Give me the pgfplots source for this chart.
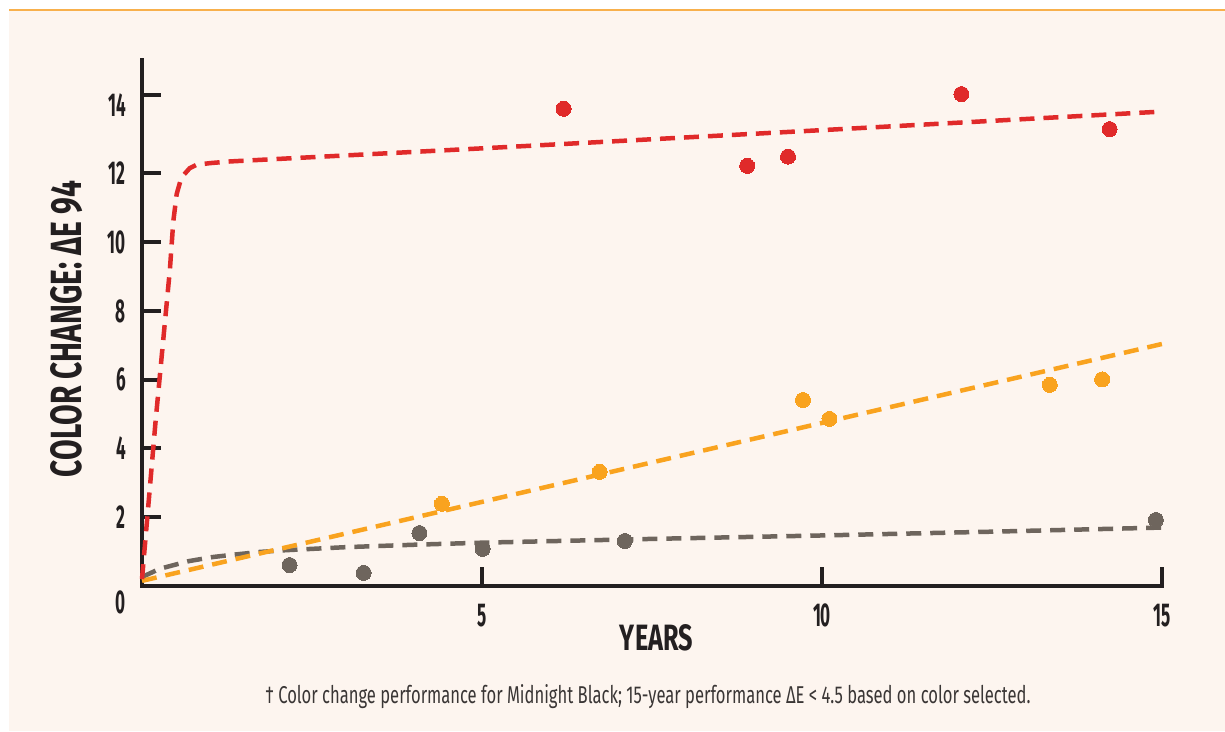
\documentclass[border=0pt]{standalone}
\usepackage{fontspec}
\setmainfont{Fira Sans}
\newfontfamily\condfont{Fira Sans}[FakeStretch=0.52]
\newfontfamily\labfont{Fira Sans}[FakeStretch=0.6]
\usepackage{graphicx}
\usepackage{pgfplots}
\pgfplotsset{compat=1.18}
\definecolor{cream}{HTML}{FDF5EF}
\definecolor{topline}{HTML}{F8B04C}
\definecolor{axisblack}{HTML}{231F20}
\definecolor{cred}{HTML}{E02A2A}
\definecolor{corange}{HTML}{F9A31F}
\definecolor{cgray}{HTML}{6E655D}
\definecolor{footgray}{HTML}{3A3635}
\newcommand{\tickfont}{\condfont\bfseries\fontsize{33pt}{33pt}\selectfont}
\begin{document}
\begin{tikzpicture}
\useasboundingbox (0,0) rectangle (1225pt,731pt);
\fill[white] (0,0) rectangle (1225pt,731pt);
\fill[cream] (9pt,0) rectangle (1225pt,721pt);
\draw[topline, line width=2.5pt] (9pt,721pt) -- (1225pt,721pt);
\begin{axis}[
  at={(142pt,145pt)}, anchor=south west,
  scale only axis, width=1020pt, height=526pt,
  xmin=0, xmax=15, ymin=0, ymax=15.3,
  axis x line=bottom, axis y line=left,
  axis line style={-, line width=4.5pt, color=axisblack, line cap=rect},
  tick style={line width=4pt, color=axisblack},
  tick align=inside, major tick length=19pt,
  xtick={5,10,15}, ytick={2,4,...,12},
  extra y ticks={14.27}, extra y tick labels={},
  /pgf/number format/assume math mode=true,
  ticklabel style={font=\tickfont, text=axisblack, inner sep=0pt},
  yticklabel style={anchor=east, xshift=-16pt},
  xticklabel style={anchor=north, yshift=-18pt},
  clip=false,
]
% trend lines
\addplot[cgray, line width=4.5pt, dash pattern=on 15pt off 9pt] coordinates {
(0,0.26) (0.26,0.5) (0.68,0.72) (1.03,0.84) (1.39,0.92) (1.73,0.99) (2.1,1.04)
(3,1.13) (4,1.2) (5,1.26) (7.5,1.37) (10,1.47) (12.5,1.58) (15,1.7)};
\addplot[corange, line width=4.5pt, dash pattern=on 15pt off 9pt] coordinates {
(0,0.15) (15,7.04)};
\addplot[cred, line width=4.5pt, dash pattern=on 15pt off 9pt] coordinates {
(0,0.2) (0.1,2.5) (0.2,4.8) (0.3,6.9) (0.41,9.2) (0.46,10.6) (0.51,11.4) (0.56,11.75)
(0.61,11.95) (0.7,12.15) (0.8,12.25) (1.0,12.3) (1.3,12.35) (5,12.73) (10,13.26) (15,13.8)};
% measured points
\addplot[only marks, mark=*, mark size=7.5pt, mark options={fill=cred, draw=cred, line width=0pt, solid}] coordinates {
(6.2,13.88) (8.9,12.22) (9.5,12.49) (12.05,14.31) (14.23,13.29)};
\addplot[only marks, mark=*, mark size=7.5pt, mark options={fill=corange, draw=corange, line width=0pt, solid}] coordinates {
(4.41,2.39) (6.73,3.32) (9.72,5.41) (10.11,4.86) (13.35,5.85) (14.12,6.01)};
\addplot[only marks, mark=*, mark size=7.5pt, mark options={fill=cgray, draw=cgray, line width=0pt, solid}] coordinates {
(2.17,0.61) (3.26,0.38) (4.08,1.54) (5.01,1.08) (7.10,1.31) (14.91,1.92)};
\node[anchor=east, inner sep=0pt, font=\tickfont, text=axisblack, xshift=-16pt] at (axis cs:0,14) {14};
\node[anchor=east, inner sep=0pt, font=\tickfont, text=axisblack, xshift=-16pt, yshift=-16.5pt] at (axis cs:0,0) {0};
\end{axis}
\node[rotate=90, inner sep=0pt, text=axisblack] at (66.5pt,402pt) {\resizebox{296pt}{31pt}{\condfont\bfseries COLOR CHANGE: ΔE 94}};
\node[inner sep=0pt, text=axisblack] at (656.5pt,93pt) {\resizebox{73pt}{26pt}{\condfont\bfseries YEARS}};
\node[inner sep=0pt, text=footgray, anchor=base] at (648pt,28pt) {\resizebox{765pt}{19pt}{\labfont † Color change performance for Midnight Black; 15-year performance ΔE < 4.5 based on color selected.}};
\end{tikzpicture}
\end{document}
